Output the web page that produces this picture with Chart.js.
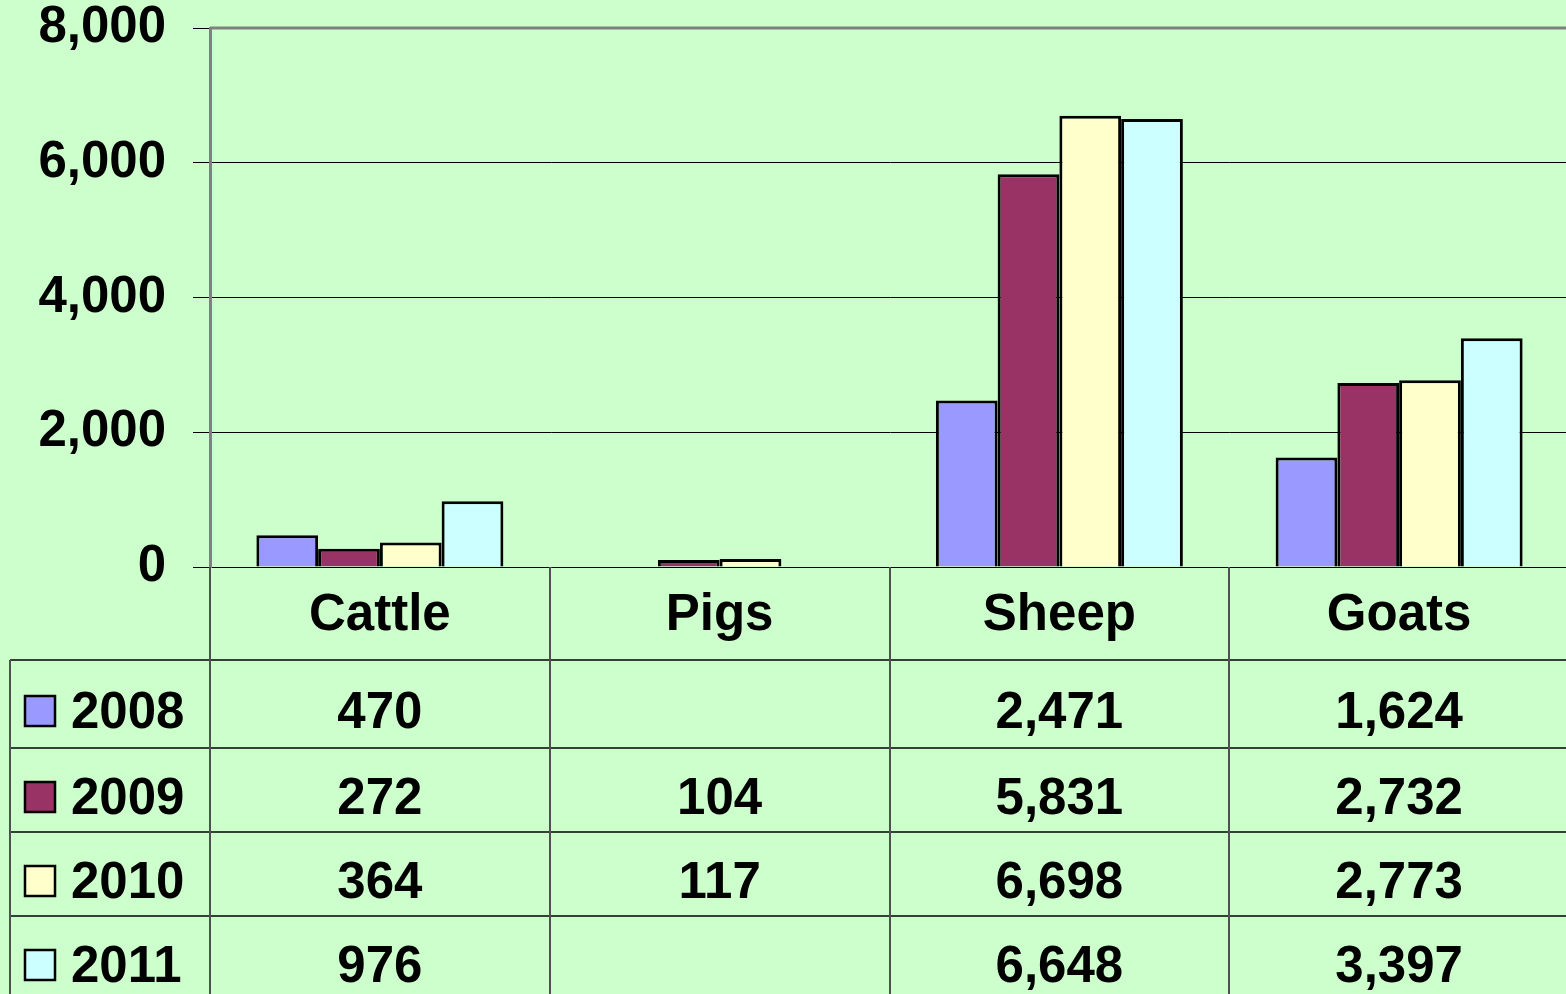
<!DOCTYPE html>
<html>
<head>
<meta charset="utf-8">
<script src="https://cdn.jsdelivr.net/npm/chart.js@4.4.1/dist/chart.umd.min.js"></script>
<style>
  html, body { margin: 0; padding: 0; background: #CCFFCC; overflow: hidden; }
  #wrap { width: 1570px; height: 994px; }
</style>
</head>
<body>
<div id="wrap"><canvas id="chart" width="1570" height="994"></canvas></div>
<script>
// data
var categories = ['Cattle', 'Pigs', 'Sheep', 'Goats'];
var years = ['2008', '2009', '2010', '2011'];
var values2008 = [470, null, 2471, 1624];
var values2009 = [272, 104, 5831, 2732];
var values2010 = [364, 117, 6698, 2773];
var values2011 = [976, null, 6648, 3397];
var yTicks = [0, 2000, 4000, 6000, 8000];

var seriesValues = [values2008, values2009, values2010, values2011];
var colors = ['#9999FF', '#993366', '#FFFFCC', '#CCFFFF'];
var FONT = 'Liberation Sans, Arial, sans-serif';

function fmt(v) {
  if (v === null || v === undefined) return '';
  return v.toLocaleString('en-US');
}

// draws the plot frame + the data table underneath, using the x scale for columns
var tablePlugin = {
  id: 'dataTable',
  afterDraw: function(chart) {
    var ctx = chart.ctx;
    var area = chart.chartArea;
    var x = chart.scales.x;
    var half = (x.getPixelForValue(1) - x.getPixelForValue(0)) / 2;
    var H = chart.height;
    var headerBottom = 660;
    var rowTops = [660, 748, 832, 916];
    var rowBottoms = [748, 832, 916, 1000];

    ctx.save();
    // top border of plot area
    ctx.strokeStyle = '#808080';
    ctx.lineWidth = 3;
    ctx.beginPath();
    ctx.moveTo(area.left, area.top);
    ctx.lineTo(area.right, area.top);
    ctx.stroke();

    // horizontal table lines
    ctx.strokeStyle = '#000000';
    ctx.lineWidth = 1.5;
    rowTops.forEach(function(y) {
      ctx.beginPath();
      ctx.moveTo(10, y);
      ctx.lineTo(chart.width, y);
      ctx.stroke();
    });

    // vertical table lines
    ctx.strokeStyle = '#505050';
    ctx.lineWidth = 2;
    for (var i = 0; i < categories.length; i++) {
      var lx = Math.round(x.getPixelForValue(i) - half);
      ctx.beginPath();
      ctx.moveTo(lx, area.bottom);
      ctx.lineTo(lx, H);
      ctx.stroke();
    }
    ctx.beginPath();
    ctx.moveTo(10, headerBottom);
    ctx.lineTo(10, H);
    ctx.stroke();

    // category labels
    ctx.fillStyle = '#000000';
    ctx.font = 'bold 51px ' + FONT;
    ctx.textAlign = 'center';
    ctx.textBaseline = 'middle';
    categories.forEach(function(c, i) {
      ctx.fillText(c, x.getPixelForValue(i), (area.bottom + headerBottom) / 2 + 2);
    });

    // rows
    years.forEach(function(yr, r) {
      var cy = (rowTops[r] + rowBottoms[r]) / 2 + 7;
      // legend key
      ctx.fillStyle = colors[r];
      ctx.fillRect(25, cy - 15, 30, 30);
      ctx.strokeStyle = '#000000';
      ctx.lineWidth = 2.5;
      ctx.strokeRect(25, cy - 15, 30, 30);
      ctx.fillStyle = '#000000';
      ctx.textAlign = 'left';
      ctx.fillText(yr, 71, cy + 3);
      ctx.textAlign = 'center';
      seriesValues[r].forEach(function(v, i) {
        ctx.fillText(fmt(v), x.getPixelForValue(i), cy + 3);
      });
    });
    ctx.restore();
  }
};

var datasets = years.map(function(yr, i) {
  return {
    label: yr,
    data: seriesValues[i],
    backgroundColor: colors[i],
    borderColor: '#000000',
    borderWidth: 3
  };
});

new Chart(document.getElementById('chart'), {
  type: 'bar',
  data: { labels: categories, datasets: datasets },
  options: {
    responsive: false,
    animation: false,
    devicePixelRatio: 1,
    layout: { padding: { top: 28, right: 1, bottom: 427, left: 0 } },
    datasets: { bar: { barPercentage: 1, categoryPercentage: 0.727 } },
    plugins: { legend: { display: false }, tooltip: { enabled: false } },
    scales: {
      x: { display: false },
      y: {
        min: 0,
        max: 8000,
        afterFit: function(scale) {
          scale.width = 210;
          scale.paddingTop = 0;
          scale.paddingBottom = 0;
        },
        afterBuildTicks: function(scale) {
          scale.ticks = yTicks.map(function(v) { return { value: v }; });
        },
        ticks: {
          color: '#000000',
          padding: 27,
          font: { family: FONT, size: 51, weight: 'bold', lineHeight: 1 },
          callback: function(v) { return fmt(v); }
        },
        grid: {
          color: function(c) { return c.tick && c.tick.value === 8000 ? 'rgba(0,0,0,0)' : '#000000'; },
          tickColor: '#000000',
          lineWidth: 1,
          tickLength: 17
        },
        border: { color: '#808080', width: 3 }
      }
    }
  },
  plugins: [tablePlugin]
});
</script>
</body>
</html>
